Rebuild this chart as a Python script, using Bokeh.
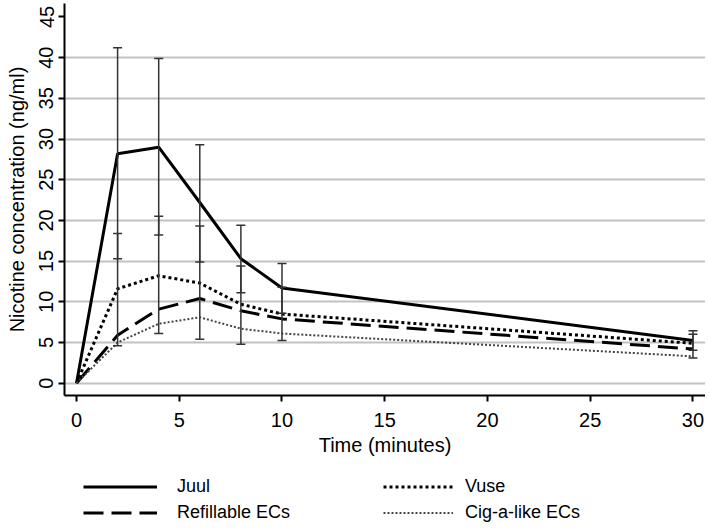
from bokeh.plotting import figure
from bokeh.layouts import column
from bokeh.models import (ColumnDataSource, FixedTicker, Range1d, Whisker, TeeHead,
                          Legend, LegendItem)
from bokeh.embed import file_html
from bokeh.resources import INLINE

# ---- data ----
time = [0, 2, 4, 6, 8, 10, 30]
juul = [0, 28.2, 29.0, 22.2, 15.3, 11.7, 5.25]
vuse = [0, 11.6, 13.2, 12.3, 9.7, 8.5, 4.9]
refillable = [0, 5.9, 9.1, 10.4, 8.9, 7.9, 4.2]
cigalike = [0, 5.0, 7.3, 8.1, 6.7, 6.1, 3.3]

err_time = [2, 4, 6, 8, 10, 30]
juul_upper = [41.2, 39.9, 29.3, 19.4, 14.7, 6.45]
juul_lower = [15.3, 18.2, 14.9, 11.1, 8.6, 4.05]
vuse_upper = [18.4, 20.5, 19.3, 14.4, 11.8, 6.0]
vuse_lower = [4.6, 6.1, 5.4, 4.8, 5.25, 3.1]

x_ticks = [0, 5, 10, 15, 20, 25, 30]
y_ticks = [0, 5, 10, 15, 20, 25, 30, 35, 40, 45]
grid_ticks = [0, 5, 10, 15, 20, 25, 30, 35, 40]

series_names = ["Juul", "Refillable ECs", "Vuse", "Cig-a-like ECs"]

FONT = "Liberation Sans"
W = 705
TOTAL_H = 526
MAIN_H = 465

p = figure(width=W, height=MAIN_H, output_backend="svg", toolbar_location=None,
           x_range=Range1d(-0.584, 30.61), y_range=Range1d(-1.511, 46.65),
           min_border_left=64, min_border_right=0, min_border_top=3,
           min_border_bottom=MAIN_H - 395)
p.outline_line_color = None
p.background_fill_color = "white"

# grid
p.xgrid.visible = False
p.ygrid.ticker = FixedTicker(ticks=grid_ticks)
p.ygrid.grid_line_color = "#c2c2c2"
p.ygrid.grid_line_width = 2

# axes
for ax in (p.xaxis[0], p.yaxis[0]):
    ax.axis_line_color = "black"
    ax.axis_line_width = 2
    ax.major_tick_line_color = "black"
    ax.major_tick_line_width = 2
    ax.major_tick_out = 6
    ax.major_tick_in = 0
    ax.minor_tick_line_color = None
    ax.major_label_text_font = FONT
    ax.major_label_text_font_size = "20px"
    ax.major_label_text_color = "black"
    ax.axis_label_text_font = FONT
    ax.axis_label_text_font_size = "20px"
    ax.axis_label_text_font_style = "normal"
    ax.axis_label_text_color = "black"

p.xaxis.ticker = FixedTicker(ticks=x_ticks)
p.yaxis.ticker = FixedTicker(ticks=y_ticks)
p.xaxis.axis_label = "Time (minutes)"
p.yaxis.axis_label = "Nicotine concentration (ng/ml)"
p.xaxis.major_label_standoff = 11
p.xaxis.axis_label_standoff = 4
p.yaxis.major_label_orientation = "vertical"
p.yaxis.major_label_standoff = 5
p.yaxis.axis_label_standoff = 9

# error bars
juul_err = ColumnDataSource(dict(x=err_time, upper=juul_upper, lower=juul_lower))
vuse_err = ColumnDataSource(dict(x=err_time, upper=vuse_upper, lower=vuse_lower))
for esrc in (juul_err, vuse_err):
    w = Whisker(base="x", upper="upper", lower="lower", source=esrc, dimension="height",
                line_color="#333333", line_width=1.5,
                upper_head=TeeHead(size=9, line_color="#333333", line_width=1.5),
                lower_head=TeeHead(size=9, line_color="#333333", line_width=1.5))
    w.level = "glyph"
    p.add_layout(w)

# line styles
styles = {
    "Juul": dict(line_color="black", line_width=3),
    "Refillable ECs": dict(line_color="black", line_width=3, line_dash="20 8"),
    "Vuse": dict(line_color="black", line_width=3, line_dash="3 3"),
    "Cig-a-like ECs": dict(line_color="#444444", line_width=2, line_dash="2 2"),
}

src = ColumnDataSource(dict(t=time, juul=juul, vuse=vuse, refillable=refillable,
                            cigalike=cigalike))
p.line("t", "juul", source=src, **styles["Juul"])
p.line("t", "vuse", source=src, **styles["Vuse"])
p.line("t", "refillable", source=src, **styles["Refillable ECs"])
p.line("t", "cigalike", source=src, **styles["Cig-a-like ECs"])

# ---- legend strip below the chart ----
q = figure(width=W, height=TOTAL_H - MAIN_H, output_backend="svg", toolbar_location=None,
           x_range=Range1d(0, 1), y_range=Range1d(0, 1),
           x_axis_location=None, y_axis_location=None,
           min_border_left=64, min_border_right=0, min_border_top=0, min_border_bottom=0)
q.outline_line_color = None
q.grid.visible = False
rend = {}
for name in series_names:
    # sample renderers kept outside the visible range; only their legend glyphs show
    rend[name] = q.line(x=[-3, -2], y=[-3, -3], **styles[name])

def make_legend(names, vx, glyph_w, standoff):
    return Legend(items=[LegendItem(label=n, renderers=[rend[n]]) for n in names],
                  location=(vx, 3), orientation="vertical",
                  border_line_color=None, background_fill_alpha=0,
                  padding=0, margin=0, spacing=5,
                  glyph_width=glyph_w, glyph_height=21, label_height=21,
                  label_standoff=standoff,
                  label_text_font=FONT, label_text_font_size="18px",
                  label_text_color="black")

q.add_layout(make_legend(["Juul", "Refillable ECs"], 19, 74, 20), "center")
q.add_layout(make_legend(["Vuse", "Cig-a-like ECs"], 319, 70, 12), "center")

layout = column(p, q, spacing=0)
open("out.html", "w").write(file_html(layout, INLINE))
